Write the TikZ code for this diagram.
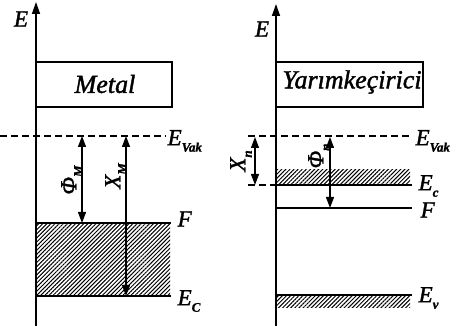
\documentclass[tikz,border=0pt]{standalone}
\usepackage{fontspec}
\setmainfont{Liberation Serif}[FakeBold=1.5]
\usetikzlibrary{arrows.meta,patterns.meta}
\newcommand{\lvl}[2]{\itshape #1\raisebox{-0.28em}{\fontsize{13}{13}\selectfont\bfseries\itshape #2}}
\begin{document}
\begin{tikzpicture}[x=1pt,y=-1pt,line width=1.3pt,
  axis/.style={line width=1.5pt,-{Triangle[length=12pt,width=8pt]}},
  dbl/.style={line width=1.3pt,{Triangle[length=11pt,width=8pt]}-{Triangle[length=11pt,width=8pt]}},
  dsh/.style={line width=1.3pt,dash pattern=on 7pt off 4pt},
  hatch/.style={pattern={Lines[angle=45,distance=2.9pt,line width=1pt]}},
  lab/.style={font=\fontsize{23}{23}\selectfont\itshape,inner sep=0pt},
  boxtxt/.style={font=\fontsize{26}{26}\selectfont\itshape,inner sep=0pt}]
\useasboundingbox (0,0) rectangle (459,328);
% ---------- left panel ----------
\coordinate (la0) at (36,326);
\coordinate (la1) at (36,2);
\draw[axis] (la0) -- (la1);
\node[lab] (lE) at (21,19) {E};
\draw (36,62) rectangle (172,107);
\node[boxtxt] (lbox) at (105,84) {Metal};
\coordinate (ld0) at (0,136);
\coordinate (ld1) at (166,136);
\draw[dsh] (ld0) -- (ld1);
\node[lab,anchor=west] (lvak) at (167,141) {\lvl{E}{Vak}};
\fill[hatch] (36,223) rectangle (170,296);
\coordinate (lf0) at (36,223); \coordinate (lf1) at (171,223);
\coordinate (lc0) at (36,296); \coordinate (lc1) at (171,296);
\draw (lf0) -- (lf1);
\draw (lc0) -- (lc1);
\node[lab,anchor=west] (lF) at (177,219) {F};
\node[lab,anchor=west] (lEc) at (177,301) {\lvl{E}{C}};
\coordinate (phiT) at (82,136); \coordinate (phiB) at (82,223);
\draw[dbl] (phiT) -- (phiB);
\node[lab,rotate=90] (lphi) at (72,180) {\lvl{Φ}{M}};
\coordinate (chiT) at (126,136); \coordinate (chiB) at (126,296);
\draw[dbl] (chiT) -- (chiB);
\node[lab,rotate=90] (lchi) at (116,176) {\lvl{X}{M}};
% ---------- right panel ----------
\coordinate (ra0) at (276,326);
\coordinate (ra1) at (276,4);
\draw[axis] (ra0) -- (ra1);
\node[lab] (rE) at (262,29) {E};
\draw (276,62) rectangle (423,107);
\node[boxtxt] (rbox) at (352,82) {Yarımkeçirici};
\coordinate (rd0) at (248,136);
\coordinate (rd1) at (412,136);
\draw[dsh] (rd0) -- (rd1);
\node[lab,anchor=west] (rvak) at (415,141) {\lvl{E}{Vak}};
\fill[hatch] (277,170) rectangle (410,185);
\coordinate (rc0) at (276,185); \coordinate (rc1) at (412,185);
\draw (rc0) -- (rc1);
\coordinate (rcd) at (248,185);
\draw[dsh] (rcd) -- (rc0);
\node[lab,anchor=west] (rEc) at (418,186) {\lvl{E}{c}};
\coordinate (rf0) at (276,208); \coordinate (rf1) at (412,208);
\draw (rf0) -- (rf1);
\node[lab,anchor=west] (rF) at (420,210) {F};
\fill[hatch] (277,295) rectangle (410,308);
\coordinate (rv0) at (276,295); \coordinate (rv1) at (412,295);
\draw (rv0) -- (rv1);
\node[lab,anchor=west] (rEv) at (418,298) {\lvl{E}{v}};
\coordinate (xnT) at (255,137); \coordinate (xnB) at (255,185);
\draw[dbl] (xnT) -- (xnB);
\node[lab,rotate=90] (rchi) at (241,161) {\lvl{X}{n}};
\coordinate (pnT) at (330,137); \coordinate (pnB) at (330,208);
\draw[dbl] (pnT) -- (pnB);
\node[lab,rotate=90] (rphi) at (319,156) {\lvl{Φ}{n}};
\end{tikzpicture}
\end{document}
